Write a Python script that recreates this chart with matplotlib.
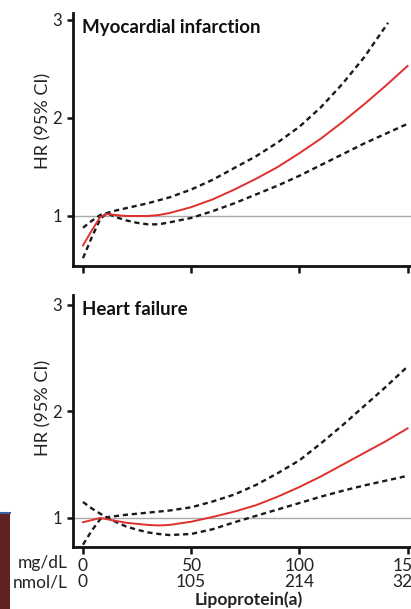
import matplotlib
matplotlib.use("Agg")
import matplotlib.pyplot as plt
from matplotlib.patches import Rectangle
from matplotlib.lines import Line2D

# ---- data ----
mi_x = [0, 4, 8, 11, 15, 20, 25, 30, 35, 40, 50, 60, 70, 80, 90, 100, 110, 120, 130, 140, 150]
mi_hr = [0.70, 0.85, 0.99, 1.02, 1.01, 1.00, 1.00, 1.00, 1.01, 1.03, 1.09, 1.17, 1.27, 1.38, 1.50, 1.64, 1.79, 1.96, 2.14, 2.33, 2.53]
mi_up_x = [0, 4, 8, 11, 15, 20, 25, 30, 35, 40, 50, 60, 70, 80, 90, 100, 110, 120, 130, 141]
mi_up = [0.88, 0.95, 1.01, 1.03, 1.055, 1.08, 1.105, 1.13, 1.16, 1.19, 1.27, 1.37, 1.49, 1.61, 1.75, 1.91, 2.11, 2.35, 2.62, 2.97]
mi_lo = [0.57, 0.78, 0.97, 1.03, 0.99, 0.955, 0.93, 0.915, 0.915, 0.935, 0.98, 1.05, 1.13, 1.22, 1.31, 1.41, 1.52, 1.63, 1.74, 1.84, 1.94]

hf_x = [0, 4, 8, 12, 16, 20, 25, 30, 35, 40, 50, 60, 70, 80, 90, 100, 110, 120, 130, 140, 150]
hf_hr = [0.96, 0.98, 1.00, 0.985, 0.97, 0.955, 0.945, 0.935, 0.93, 0.935, 0.965, 1.01, 1.06, 1.12, 1.20, 1.29, 1.39, 1.50, 1.61, 1.72, 1.84]
hf_up = [0.75, 0.88, 0.99, 1.01, 1.02, 1.03, 1.04, 1.05, 1.06, 1.07, 1.10, 1.155, 1.22, 1.31, 1.42, 1.54, 1.70, 1.87, 2.05, 2.23, 2.42]
hf_lo = [1.15, 1.09, 1.04, 0.995, 0.955, 0.92, 0.89, 0.865, 0.85, 0.84, 0.85, 0.895, 0.96, 1.02, 1.08, 1.14, 1.20, 1.255, 1.305, 1.35, 1.395]

x_ticks = [0, 50, 100, 150]
mg_labels = ["0", "50", "100", "150"]
nmol_labels = ["0", "105", "214", "321"]
y_ticks = [1, 2, 3]
titles = ["Myocardial infarction", "Heart failure"]

W, H = 411, 609
fig = plt.figure(figsize=(W / 100, H / 100), dpi=100)
fig.patch.set_facecolor("white")

FONT = "Lato"
RED = "#e0302c"
TXT = "#222222"

def px_axes(left, top, right, bottom):
    return fig.add_axes([left / W, 1 - bottom / H, (right - left) / W, (bottom - top) / H])

ax1 = px_axes(73, 13, 416, 266)
ax2 = px_axes(73, 295, 416, 547)

xlim = (-4.62, 153.9)
ax1.set_ylim(0.49, 3.07)
ax2.set_ylim(0.728, 3.09)

def style(ax, title):
    ax.set_xlim(*xlim)
    for s in ["top", "right"]:
        ax.spines[s].set_visible(False)
    for s in ["left", "bottom"]:
        ax.spines[s].set_linewidth(2.0)
        ax.spines[s].set_color("#111111")
    ax.set_xticks(x_ticks)
    ax.set_yticks(y_ticks)
    ax.tick_params(axis="both", direction="out", width=1.8, color="#111111")
    ax.tick_params(axis="y", length=4, pad=4, labelsize=12, labelcolor=TXT)
    ax.tick_params(axis="x", length=5)
    for lab in ax.get_yticklabels():
        lab.set_fontfamily(FONT)
    ax.axhline(1, color="#aaaaaa", lw=1.0, zorder=1)
    ax.text(0.027, 0.975, title, transform=ax.transAxes, ha="left", va="top",
            fontsize=13.5, fontweight="bold", family=FONT, color="#111111")

style(ax1, titles[0])
style(ax2, titles[1])
ax1.set_xticklabels([])

dash = dict(color="#1a1a1a", lw=1.7, ls=(0, (2.2, 1.6)), zorder=3)

ax1.plot(mi_up_x, mi_up, **dash)
ax1.plot(mi_x, mi_lo, **dash)
ax1.plot(mi_x, mi_hr, color=RED, lw=1.4, zorder=4)

ax2.plot(hf_x, hf_up, **dash)
ax2.plot(hf_x, hf_lo, **dash)
ax2.plot(hf_x, hf_hr, color=RED, lw=1.4, zorder=4)

ax2.set_xticklabels([f"{a}\n{b}" for a, b in zip(mg_labels, nmol_labels)],
                    fontsize=12.5, family=FONT, color=TXT, linespacing=1.0)
ax2.tick_params(axis="x", pad=3.0)

# unit labels
fig.text(68 / W, 1 - 563 / H, "mg/dL", ha="right", va="center", fontsize=12.5, family=FONT, color=TXT)
fig.text(68 / W, 1 - 582 / H, "nmol/L", ha="right", va="center", fontsize=12.5, family=FONT, color=TXT)
fig.text(249 / W, 1 - 607.5 / H, "Lipoprotein(a)", ha="center", va="bottom", fontsize=12.5,
         fontweight="bold", family=FONT, color=TXT)

for yc in (121, 408):
    fig.text(43 / W, 1 - yc / H, "HR (95% CI)", rotation=90, ha="center", va="center",
             fontsize=13, family=FONT, color=TXT)

# decorative slide background bits at bottom-left
fig.patches.append(Rectangle((0, 0), 9.5 / W, (H - 514) / H, transform=fig.transFigure,
                             facecolor="#5e2222", edgecolor="none", zorder=0))
fig.lines.append(Line2D([0, 10 / W], [1 - 513 / H, 1 - 513 / H], transform=fig.transFigure,
                        color="#3d5ea8", lw=1.5))

fig.savefig("out.png", dpi=100)
